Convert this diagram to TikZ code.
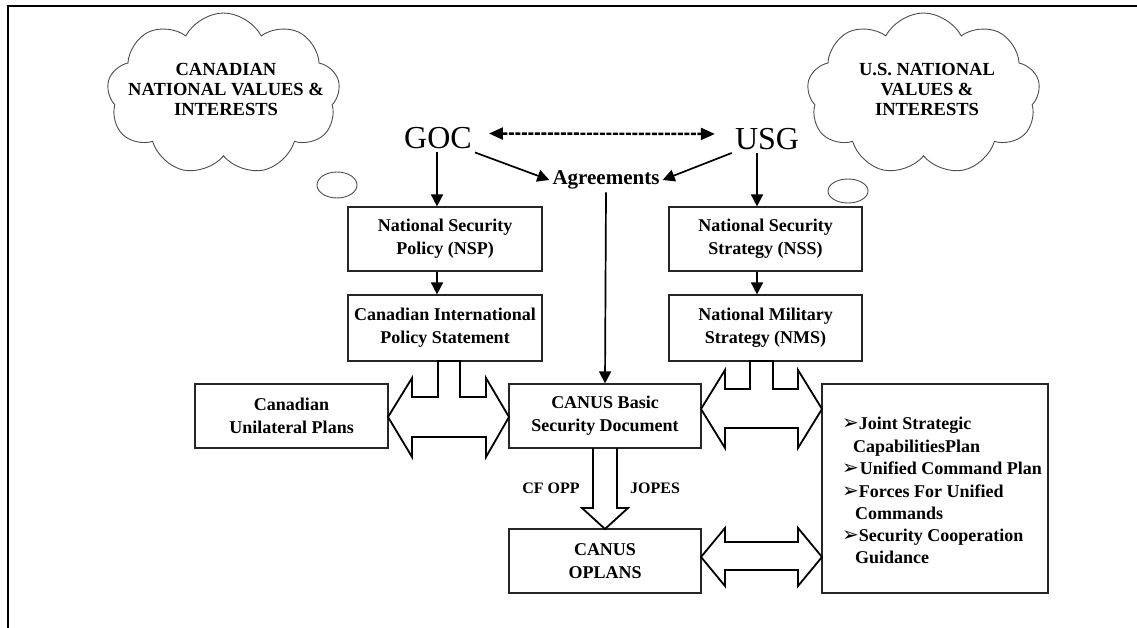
\documentclass[tikz,border=0pt]{standalone}
\usepackage{fontspec}
\setmainfont{Liberation Serif}
\newfontfamily\dejavu{DejaVu Sans}
\usetikzlibrary{shapes.symbols,shapes.geometric,arrows.meta}
\newcommand{\lbul}{{\dejavu\fontsize{20}{20}\selectfont ➢}}
\begin{document}
\begin{tikzpicture}[x=1pt,y=-1pt,
 box/.style={draw=black!85, line width=1.2pt, align=center, inner sep=0pt, font=\bfseries\fontsize{18}{23}\selectfont},
 thinarr/.style={line width=1.7pt, -{Triangle[length=12pt,width=12pt]}},
 blockarr/.style={draw, line width=1.8pt, fill=white, line join=miter},
 puff/.style={cloud, cloud puffs=9, cloud puff arc=125, draw=black!70, line width=0.9pt, minimum width=233pt, minimum height=162pt, inner sep=0pt},
 bubble/.style={ellipse, draw=black!70, line width=0.9pt, inner sep=0pt},
 cloudtxt/.style={align=center, font=\bfseries\fontsize{18.5}{20}\selectfont},
 listtxt/.style={anchor=base west, inner sep=0pt, font=\bfseries\fontsize{18}{22}\selectfont},
 govt/.style={font=\fontsize{32}{32}\selectfont, inner sep=3pt}
]
\useasboundingbox (0,0) rectangle (1137,628);
% frame
\draw[line width=2.5pt] (8,628) -- (8,6) -- (1137,6);

% clouds
\node[puff] (cloudca) at (223.5,94) {};
\node[cloudtxt] (txtca) at (226,89) {CANADIAN\\NATIONAL VALUES \&\\INTERESTS};
\node[bubble, minimum width=40pt, minimum height=26pt] (bubca) at (337,185) {};
\node[puff] (cloudus) at (923.5,94) {};
\node[cloudtxt] (txtus) at (927,89) {U.S. NATIONAL\\VALUES \&\\INTERESTS};
\node[bubble, minimum width=40pt, minimum height=24pt] (bubus) at (848,191) {};

% governments
\node[govt] (goc) at (438,138.5) {GOC};
\node[govt] (usg) at (767,139) {USG};
\node[inner sep=3pt, font=\bfseries\fontsize{21}{21}\selectfont] (agr) at (606,180) {Agreements};

% boxes
\node[box, minimum width=194pt, minimum height=64pt] (nsp) at (445,239) {National Security\\Policy (NSP)};
\node[box, minimum width=194pt, minimum height=66pt] (cips) at (445,328) {Canadian International\\Policy Statement};
\node[box, minimum width=193pt, minimum height=64pt] (nss) at (765.5,239) {National Security\\Strategy (NSS)};
\node[box, minimum width=193pt, minimum height=66pt] (nms) at (765.5,328) {National Military\\Strategy (NMS)};
\node[box, minimum width=193pt, minimum height=64pt] (cup) at (291.5,416) {Canadian\\Unilateral Plans};
\node[box, minimum width=192pt, minimum height=64pt] (basic) at (605,416) {CANUS Basic\\Security Document};
\node[box, minimum width=192pt, minimum height=64pt] (oplans) at (605,561) {CANUS\\OPLANS};
\node[box, minimum width=226pt, minimum height=209pt] (list) at (935,488.5) {};

% list text
\node[listtxt] (l1) at (842,429) {\lbul Joint Strategic};
\node[listtxt] (l2) at (853,452) {CapabilitiesPlan};
\node[listtxt] (l3) at (842,474) {\lbul\hspace{1pt}Unified Command Plan};
\node[listtxt] (l4) at (842,497) {\lbul Forces For Unified};
\node[listtxt] (l5) at (855,519) {Commands};
\node[listtxt] (l6) at (842,541) {\lbul Security Cooperation};
\node[listtxt] (l7) at (855,563) {Guidance};

% thin arrows
\draw[line width=2.4pt, dash pattern=on 5pt off 1.5pt, {Triangle[length=14pt,width=12pt]}-{Triangle[length=14pt,width=12pt]}, shorten <=14pt, shorten >=17pt] ([yshift=5pt]goc.east) -- ([yshift=5pt]usg.west);
\draw[thinarr] (goc.south east) -- (agr.west);
\draw[thinarr] (usg.south west) -- (agr.east);
\draw[thinarr] (agr.south) -- (basic.north);
\draw[thinarr] (goc.south -| 437,0) -- (nsp.north -| 437,0);
\draw[thinarr] (nsp.south -| 437,0) -- (cips.north -| 437,0);
\draw[thinarr] (usg.south -| 757,0) -- (nss.north -| 757,0);
\draw[thinarr] (nss.south -| 757,0) -- (nms.north -| 757,0);

% block arrows
\path[blockarr] (388,417) -- (412,378) -- (412,397) -- (438,397) -- (438,361) -- (460,361) -- (460,397) -- (486,397) -- (486,378) -- (509,417) -- (486,457) -- (486,437) -- (412,437) -- (412,457) -- cycle;
\path[blockarr] (701,409) -- (725,370) -- (725,389) -- (750,389) -- (750,361) -- (773,361) -- (773,389) -- (798,389) -- (798,370) -- (822,409) -- (798,448) -- (798,428) -- (725,428) -- (725,448) -- cycle;
\path[blockarr] (701,557) -- (725,528) -- (725,542) -- (798,542) -- (798,528) -- (822,557) -- (798,586) -- (798,570) -- (725,570) -- (725,586) -- cycle;
\draw[line width=1.8pt, line join=miter] (593,448) -- (593,508) -- (582,508) -- (605,529) -- (628,508) -- (617,508) -- (617,448);

\node[font=\bfseries\fontsize{16}{16}\selectfont] (cfopp) at (551,488) {CF OPP};
\node[font=\bfseries\fontsize{16}{16}\selectfont] (jopes) at (655,488) {JOPES};
\end{tikzpicture}
\end{document}
